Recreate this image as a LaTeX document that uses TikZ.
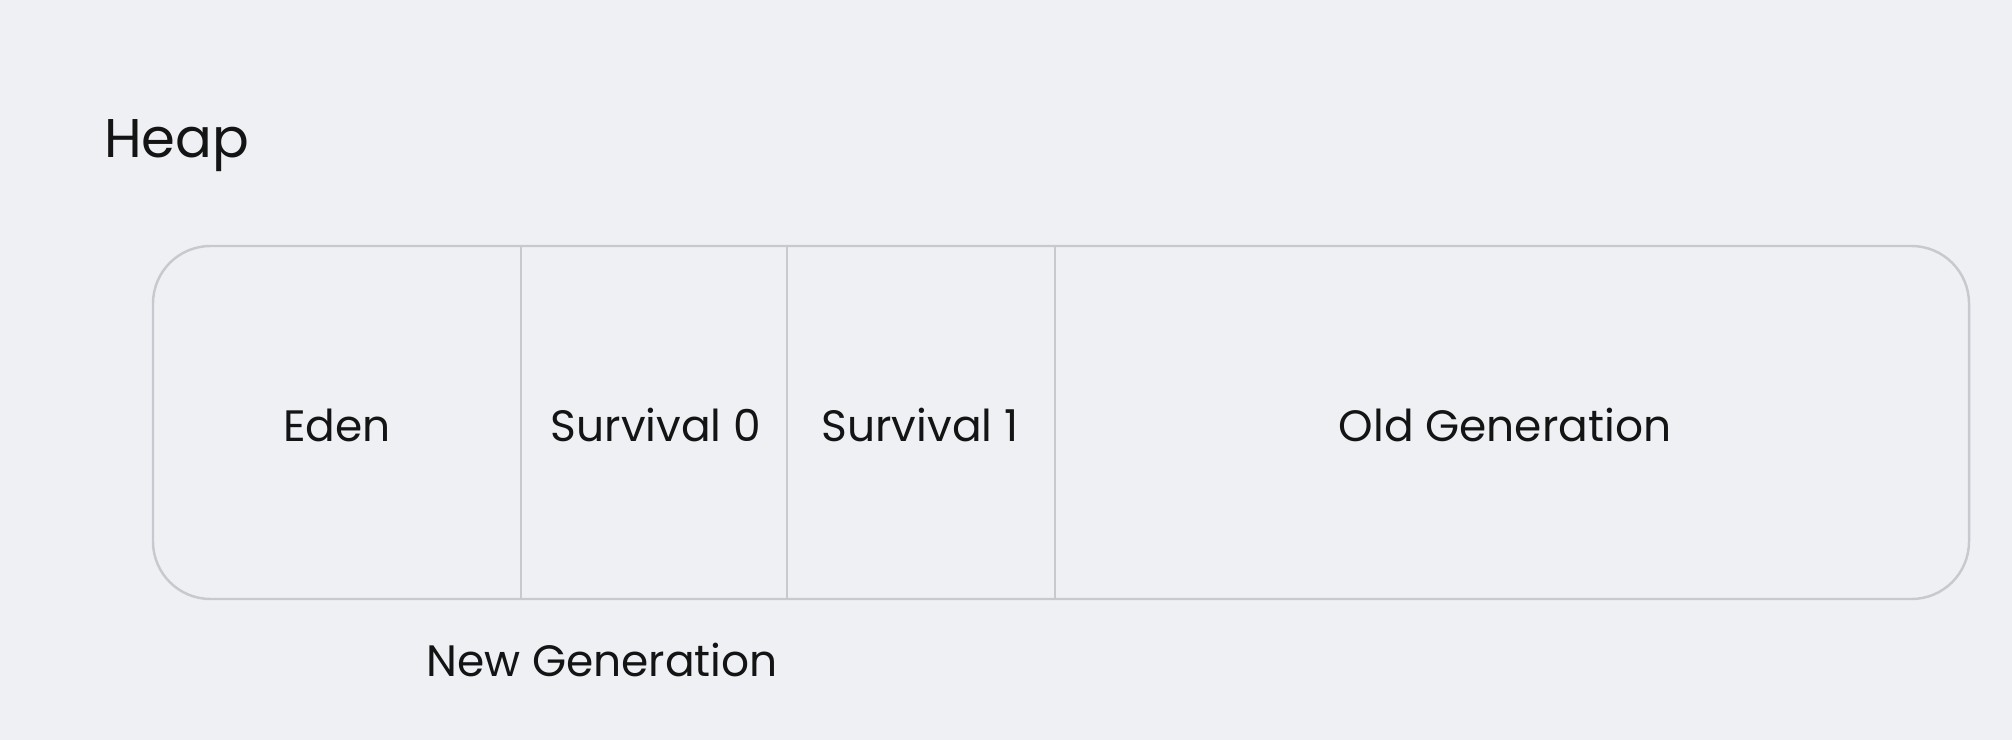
\documentclass[tikz,border=0pt]{standalone}
\usepackage{fontspec}
\setmainfont{Poppins}
\definecolor{bgcol}{HTML}{EEF0F4}
\definecolor{framecol}{HTML}{C6C9CE}
\definecolor{inkcol}{HTML}{141414}
\tikzset{
  part/.style={text=inkcol, font=\fontsize{25}{28}\selectfont},
  frame/.style={draw=framecol, line width=1.4pt}
}
\begin{document}
\begin{tikzpicture}[x=0.02cm,y=-0.02cm]
   \fill[bgcol] (0,0) rectangle (2012,740);
   \useasboundingbox (0,0) rectangle (2012,740);
   \coordinate (tl) at (153,246);
   \coordinate (br) at (1969,599);
   \coordinate (d1t) at (521,246);  \coordinate (d1b) at (521,599);
   \coordinate (d2t) at (787,246);  \coordinate (d2b) at (787,599);
   \coordinate (d3t) at (1055,246); \coordinate (d3b) at (1055,599);
   \draw[frame, rounded corners=1.15cm] (tl) rectangle (br);
   \draw[frame, line width=1.2pt] (d1t) -- (d1b);
   \draw[frame, line width=1.2pt] (d2t) -- (d2b);
   \draw[frame, line width=1.2pt] (d3t) -- (d3b);
   \node[text=inkcol, font=\fontsize{31}{35}\selectfont, anchor=west] (heap) at (98,146) {Heap};
   \node[part] (eden) at (337,425) {Eden};
   \node[part] (surv0) at (656,425) {Survival 0};
   \node[part] (surv1) at (920,425) {Survival 1};
   \node[part] (old) at (1505,425) {Old Generation};
   \node[part] (newgen) at (602,660) {New Generation};
\end{tikzpicture}
\end{document}
